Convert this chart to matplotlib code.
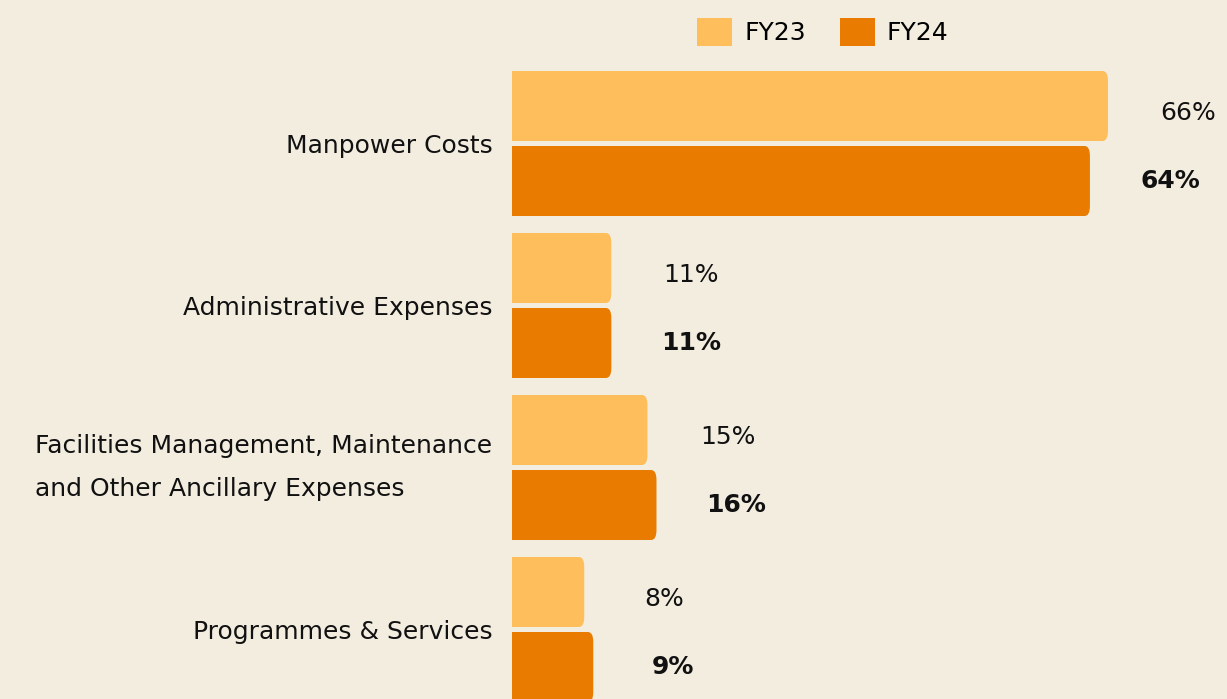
import matplotlib

matplotlib.use("Agg")
import matplotlib.pyplot as plt  # noqa: E402
from matplotlib.patches import FancyBboxPatch  # noqa: E402

# ---------------------------------------------------------------------------
# Data
# ---------------------------------------------------------------------------
categories = [
    "Manpower Costs",
    "Administrative Expenses",
    "Facilities Management, Maintenance\nand Other Ancillary Expenses",
    "Programmes & Services",
]
fy23 = [66, 11, 15, 8]
fy24 = [64, 11, 16, 9]
series_names = ["FY23", "FY24"]

# ---------------------------------------------------------------------------
# Style
# ---------------------------------------------------------------------------
BG = "#F3EDE0"
C23 = "#FFBE5C"
C24 = "#E87B00"
FONT = ["DejaVu Sans"]
FS = 18

W, H, DPI = 12.27, 6.99, 100
BAR_H = 70 / 162
HALF = 37.5 / 162

plt.rcParams["font.family"] = FONT

fig = plt.figure(figsize=(W, H), dpi=DPI, facecolor=BG)
ax = fig.add_axes([512 / 1227, 0, 1 - 512 / 1227, (699 - 71) / 699])
ax.set_facecolor(BG)
ax.set_xlim(0, (1227 - 512) / 9.03)
ax.set_ylim(3 + 69.5 / 162, -72.5 / 162)


def rounded_bar(y, width, color):
    # extend left past the axis so only the right corners show rounding
    p = FancyBboxPatch((-5, y - BAR_H / 2), width + 5, BAR_H,
                       boxstyle="round,pad=0,rounding_size=0.6",
                       mutation_aspect=BAR_H / 4.2,
                       fc=color, ec="none", clip_on=True)
    ax.add_patch(p)


for i, (a, b) in enumerate(zip(fy23, fy24)):
    rounded_bar(i - HALF, a, C23)
    rounded_bar(i + HALF, b, C24)
    ax.annotate(f"{a}%", (a, i - HALF), xytext=(80, -7),
                textcoords="offset pixels", ha="center", va="center",
                fontsize=FS, color="#111111")
    ax.annotate(f"{b}%", (b, i + HALF), xytext=(80, 0),
                textcoords="offset pixels", ha="center", va="center",
                fontsize=FS, fontweight="bold", color="#111111")

ax.set_yticks(range(len(categories)))
ax.set_yticklabels(categories, fontsize=FS, color="#111111",
                   linespacing=2.0)
for t in ax.get_yticklabels():
    t.set_multialignment("left")
    if "\n" in t.get_text():
        t.set_verticalalignment("center")
ax.tick_params(axis="y", length=0, pad=14)
ax.set_xticks([])
for s in ax.spines.values():
    s.set_visible(False)

handles = [plt.Rectangle((0, 0), 1, 1, fc=c, ec="none") for c in (C23, C24)]
fig.legend(handles, series_names, loc="center",
           bbox_to_anchor=(823 / 1227, 1 - 32 / 699), ncol=2, frameon=False,
           fontsize=FS, handlelength=1.4, handleheight=1.4,
           handletextpad=0.48, columnspacing=1.36)

fig.savefig("out.png", dpi=DPI, facecolor=BG)
